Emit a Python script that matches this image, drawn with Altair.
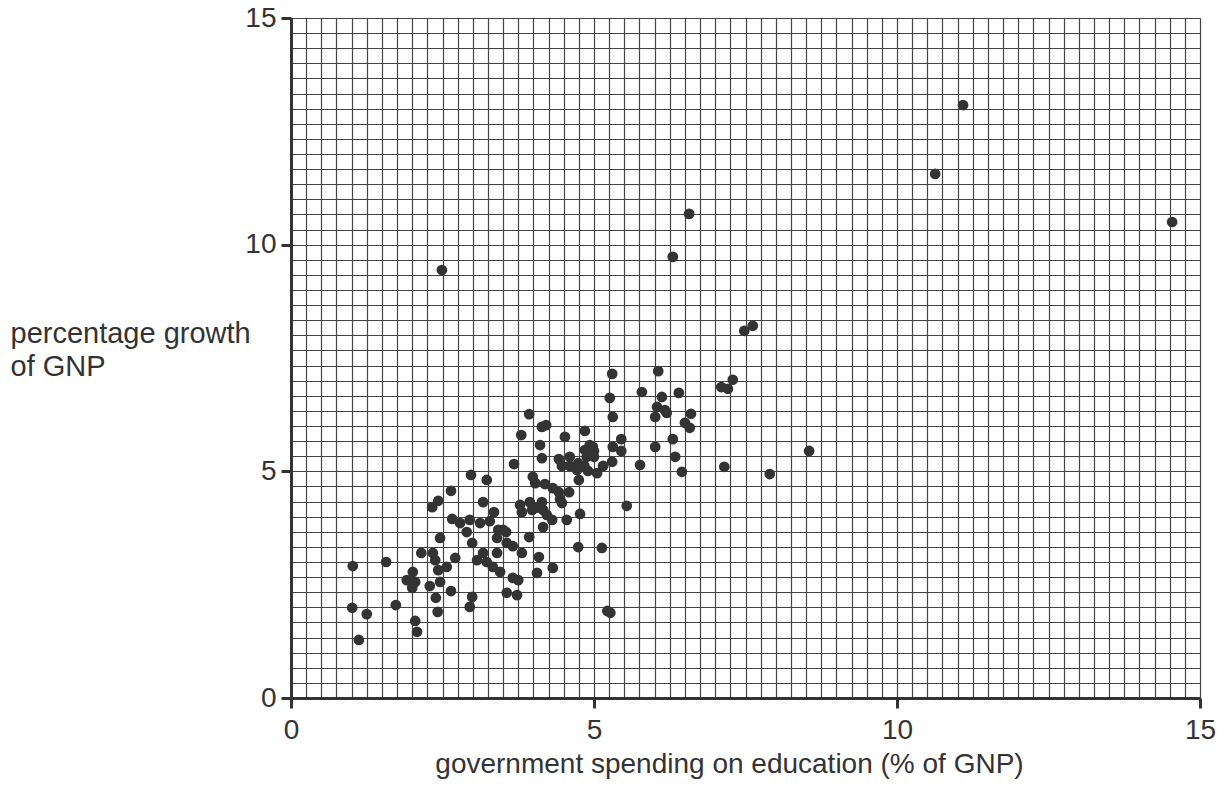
import altair as alt
import pandas as pd

# government spending on education (% of GNP)
spending = [
    11.09, 10.63, 14.54, 6.57, 6.30, 2.49, 7.48, 7.62,
    5.30, 6.06, 5.26, 5.79, 6.40, 6.12, 6.04, 6.17, 6.20, 6.01, 5.31, 6.60, 6.50, 6.58, 7.10, 7.21, 7.29,
    5.45, 5.31, 5.45, 6.01, 6.30, 6.34, 5.30, 5.15, 5.76, 6.45, 7.15, 7.90, 8.55,
    3.93, 4.14, 4.21, 3.80, 4.52, 4.85, 4.11, 4.93, 5.00, 4.14, 3.68, 4.42, 4.60, 4.47, 4.60, 4.74, 4.84, 4.88, 5.00, 4.72, 4.90, 5.05, 4.75,
    3.99, 4.03, 4.19, 4.32, 4.42, 4.59, 4.44, 4.47, 3.78, 3.94, 3.81, 3.98, 4.14, 4.16, 4.22, 4.31, 4.16, 4.55, 4.77, 5.54, 3.93, 3.50, 4.74, 5.13,
    2.97, 3.23, 2.64, 2.43, 2.33, 3.17, 3.35, 2.66, 2.79, 2.95, 3.12, 3.28, 3.42, 3.55, 2.90, 3.40, 2.46, 2.99, 3.56, 3.66, 3.81,
    2.15, 2.34, 2.38, 2.43, 2.57, 2.71, 3.07, 3.17, 3.23, 3.40, 3.33, 3.45, 4.09, 4.32, 4.06, 3.66, 3.75, 3.56, 3.73,
    2.01, 1.91, 2.05, 2.00, 2.29, 2.46, 2.64, 2.39, 2.99, 1.02, 1.57, 1.01, 1.25, 1.12, 1.73, 2.05, 2.08, 2.42, 2.95, 5.22, 5.27, 4.06, 4.85, 4.98,
]

# percentage growth of GNP
growth = [
    13.08, 11.56, 10.50, 10.68, 9.73, 9.44, 8.10, 8.21,
    7.15, 7.21, 6.62, 6.75, 6.73, 6.64, 6.42, 6.35, 6.29, 6.20, 6.20, 6.27, 6.07, 5.96, 6.86, 6.82, 7.02,
    5.71, 5.54, 5.45, 5.54, 5.71, 5.32, 5.21, 5.12, 5.14, 4.99, 5.10, 4.94, 5.45,
    6.26, 5.98, 6.02, 5.80, 5.76, 5.89, 5.58, 5.58, 5.45, 5.29, 5.16, 5.27, 5.32, 5.12, 5.12, 5.18, 5.12, 5.32, 5.32, 5.03, 5.01, 4.96, 4.81,
    4.88, 4.74, 4.72, 4.63, 4.54, 4.54, 4.39, 4.30, 4.26, 4.32, 4.10, 4.15, 4.32, 4.15, 4.04, 3.93, 3.77, 3.93, 4.06, 4.24, 3.55, 3.71, 3.33, 3.31,
    4.92, 4.81, 4.57, 4.35, 4.21, 4.32, 4.10, 3.95, 3.86, 3.93, 3.86, 3.90, 3.71, 3.66, 3.66, 3.53, 3.53, 3.42, 3.42, 3.35, 3.20,
    3.20, 3.20, 3.04, 2.82, 2.89, 3.09, 3.04, 3.20, 3.00, 3.20, 2.89, 2.78, 3.11, 2.87, 2.76, 2.65, 2.60, 2.32, 2.27,
    2.78, 2.60, 2.56, 2.43, 2.47, 2.56, 2.36, 2.21, 2.23, 2.91, 3.00, 1.99, 1.85, 1.28, 2.05, 1.70, 1.46, 1.90, 2.01, 1.92, 1.88, 4.20, 5.47, 5.54,
]

tick_values = [0, 5, 10, 15]
x_grid = [i * 0.25 for i in range(61)]
y_grid = [i / 3 for i in range(46)]

df = pd.DataFrame({"x": spending, "y": growth})

FONT = "Liberation Sans"
INK = "#333333"

xscale = alt.Scale(domain=[0, 15], nice=False, zero=True)
yscale = alt.Scale(domain=[0, 15], nice=False, zero=True)

base = alt.Chart(df)

grid_layer = base.mark_point(opacity=0).encode(
    x=alt.X("x:Q", scale=xscale, axis=alt.Axis(
        orient="top", values=x_grid, grid=True, labels=False, ticks=False,
        domain=False, title="", gridColor="#444444", gridWidth=1.2, gridOpacity=1)),
    y=alt.Y("y:Q", scale=yscale, axis=alt.Axis(
        orient="right", values=y_grid, grid=True, labels=False, ticks=False,
        domain=False, title="", gridColor="#444444", gridWidth=1.2, gridOpacity=1)),
)

points = base.mark_circle(size=115, color=INK, opacity=1).encode(
    x=alt.X("x:Q", scale=xscale, axis=alt.Axis(
        orient="bottom", values=tick_values, grid=False, format="d",
        domain=True, domainColor=INK, domainWidth=3,
        ticks=True, tickColor=INK, tickWidth=3, tickSize=10,
        labelFont=FONT, labelFontSize=28, labelColor=INK, labelPadding=8,
        labelFlush=False, labelOverlap=False,
        title="government spending on education (% of GNP)",
        titleFont=FONT, titleFontSize=28, titleFontWeight="normal", titleColor=INK,
        titleX=438, titleY=74, titleAlign="center", titleBaseline="alphabetic")),
    y=alt.Y("y:Q", scale=yscale, axis=alt.Axis(
        orient="left", values=tick_values, grid=False, format="d",
        domain=True, domainColor=INK, domainWidth=3,
        ticks=True, tickColor=INK, tickWidth=3, tickSize=10,
        labelFont=FONT, labelFontSize=28, labelColor=INK, labelPadding=5,
        labelFlush=False, labelOverlap=False,
        title=["percentage growth", "of GNP"],
        titleFont=FONT, titleFontSize=29, titleFontWeight="normal", titleColor=INK,
        titleAngle=0, titleX=-281, titleY=324, titleAlign="left",
        titleBaseline="alphabetic", titleLineHeight=33)),
)

chart = alt.layer(grid_layer, points).resolve_axis(
    x="independent", y="independent"
).properties(
    width=909,
    height=680,
    autosize=alt.AutoSizeParams(type="none"),
    padding={"left": 283, "top": 10, "right": 17, "bottom": 81},
).configure_view(stroke=None).configure(background="white")

chart.save("out.html", embed_options={"renderer": "svg", "actions": False})
